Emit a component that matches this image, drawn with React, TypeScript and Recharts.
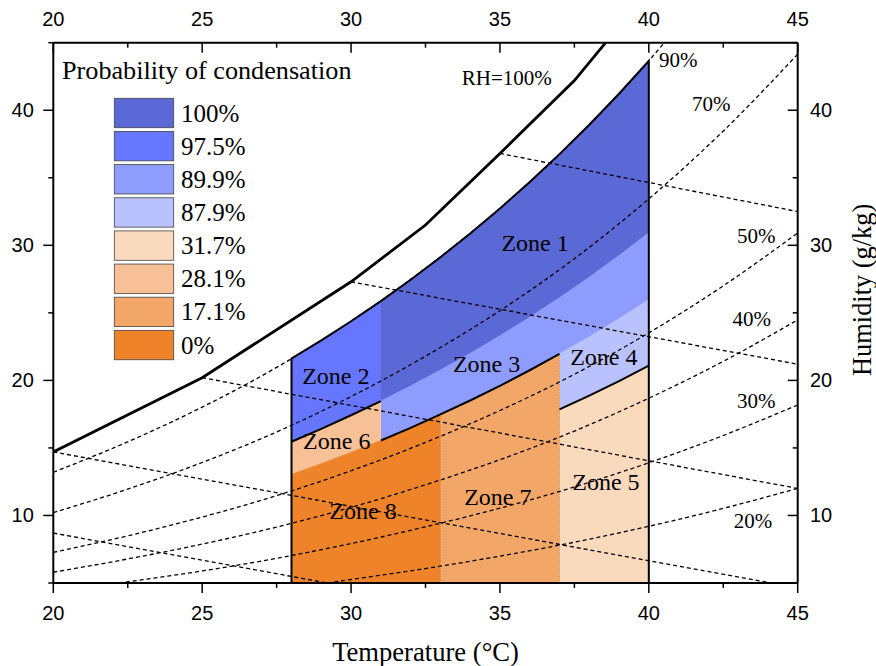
import { ComposedChart, XAxis, YAxis, Area, Line, ReferenceDot, Label } from 'recharts'

const SERIF = '"Liberation Serif", "Times New Roman", Times, serif'
const SANS = '"Liberation Sans", Arial, Helvetica, sans-serif'

// axis ticks
const tempTicks = [20, 22.5, 25, 27.5, 30, 32.5, 35, 37.5, 40, 42.5, 45]
const humTicks = [5, 10, 15, 20, 25, 30, 35, 40, 45]

// zone boundaries: humidity (g/kg) along the temperature grid (°C)
const zoneTemps = [28, 29, 30, 31, 32, 33, 34, 35, 36, 37, 38, 39, 40]
const rh90 = [21.62, 22.96, 24.38, 25.87, 27.45, 29.12, 30.87, 32.73, 34.69, 36.75, 38.93, 41.22, 43.66]
const rh65 = [15.46, 16.41, 17.42, 18.47, 19.58, 20.76, 21.99, 23.3, 24.67, 26.12, 27.63, 29.24, 30.93]
const rh55 = [13.04, 13.83, 14.67, 15.55, 16.49, 17.48, 18.51, 19.6, 20.75, 21.96, 23.22, 24.56, 25.97]
const rh45 = [10.63, 11.27, 11.96, 12.67, 13.43, 14.22, 15.06, 15.95, 16.87, 17.85, 18.87, 19.95, 21.09]
const floorW = 5

// zones
const zoneNames = ['Zone 1', 'Zone 2', 'Zone 3', 'Zone 4', 'Zone 5', 'Zone 6', 'Zone 7', 'Zone 8']
const zoneProbs = ['100%', '97.5%', '89.9%', '87.9%', '31.7%', '28.1%', '17.1%', '0%']
const zoneColors = ['#5A69D5', '#6676FE', '#8E9CFE', '#BAC2FE', '#FADABD', '#F7C096', '#F2A769', '#EE8329']
const zoneFrom = [31, 28, 31, 37, 37, 28, 33, 28]
const zoneTo = [40, 31, 40, 40, 40, 31, 37, 33]
const zoneLow = ['rh65', 'rh65', 'rh55', 'rh45', 'floor', 'rh55', 'floor', 'floor']
const zoneHigh = ['rh90', 'rh90', 'rh65', 'rh55', 'rh45', 'rh65', 'rh55', 'rh55']
const zoneLabelT = [36.18, 29.49, 34.55, 38.49, 38.56, 29.52, 34.93, 30.4]
const zoneLabelW = [30.15, 20.32, 21.19, 21.7, 12.47, 15.48, 11.33, 10.3]

// saturation curve RH=100%
const satT = [20, 25, 30, 32.5, 35, 37.5, 38.55]
const satW = [14.7, 20.2, 27.3, 31.5, 36.8, 42.2, 45]

// dashed relative humidity curves
const gridTemps = [20, 22.5, 25, 27.5, 30, 32.5, 35, 37.5, 40, 42.5, 45]
const rh90LineT = [20, 22.5, 25, 27.5, 30, 32.5, 35, 37.5, 40, 40.52]
const rh90LineW = [13.2, 15.45, 18.02, 20.96, 24.38, 28.3, 32.73, 37.8, 43.66, 45]
const rh70LineW = [10.21, 11.95, 13.92, 16.18, 18.8, 21.79, 25.16, 29.01, 33.44, 38.46, 44.15]
const rh50LineW = [7.27, 8.49, 9.88, 11.47, 13.31, 15.41, 17.77, 20.45, 23.52, 27.0, 30.91]
const rh40LineW = [5.8, 6.78, 7.88, 9.14, 10.6, 12.27, 14.13, 16.25, 18.68, 21.41, 24.48]
const rh30LineT = [22.2, 25, 27.5, 30, 32.5, 35, 37.5, 40, 42.5, 45]
const rh30LineW = [5, 5.89, 6.83, 7.92, 9.16, 10.54, 12.11, 13.9, 15.92, 18.18]
const rh20LineT = [29.2, 30, 32.5, 35, 37.5, 40, 42.5, 45]
const rh20LineW = [5, 5.26, 6.07, 6.99, 8.02, 9.2, 10.52, 12.01]
const rhLabels = ['RH=100%', '90%', '70%', '50%', '40%', '30%', '20%']
const rhLabelT = [35.23, 40.99, 42.1, 43.61, 43.46, 43.61, 43.5]
const rhLabelW = [42.41, 43.7, 40.48, 30.67, 24.52, 18.48, 9.58]

// dashed falling lines (start / end)
const enthStartT = [20, 20, 25, 30, 35]
const enthStartW = [8.7, 14.7, 20.2, 27.3, 36.8]
const enthEndT = [29.2, 44.1, 45, 45, 45]
const enthEndW = [5, 5, 12.0, 21.2, 32.5]

const curves: Record<string, number[]> = {
  rh90,
  rh65,
  rh55,
  rh45,
  floor: zoneTemps.map(() => floorW),
}

const pts = (ts: number[], ws: number[]) => ts.map((t, i) => ({ t, w: ws[i] }))
const slice = (key: string, from: number, to: number) =>
  zoneTemps.map((t, i) => ({ t, w: curves[key][i] })).filter((p) => p.t >= from && p.t <= to)
const at = (key: string, t: number) => curves[key][zoneTemps.indexOf(t)]
const zoneData = (z: number) =>
  zoneTemps
    .map((t, k) => ({ t, range: [curves[zoneLow[z]][k], curves[zoneHigh[z]][k]] }))
    .filter((p) => p.t >= zoneFrom[z] && p.t <= zoneTo[z])

const dashedCurves = [
  pts(rh90LineT, rh90LineW),
  pts(gridTemps, rh70LineW),
  pts(gridTemps, rh50LineW),
  pts(gridTemps, rh40LineW),
  pts(rh30LineT, rh30LineW),
  pts(rh20LineT, rh20LineW),
]
const enthLines = enthStartT.map((t, i) => [
  { t, w: enthStartW[i] },
  { t: enthEndT[i], w: enthEndW[i] },
])
const outline = [{ t: 28, w: floorW }, ...slice('rh90', 28, 40), { t: 40, w: floorW }, { t: 28, w: floorW }]
const boundaries = [slice('rh65', 28, 31), slice('rh55', 31, 37), slice('rh45', 37, 40)]
const dividers = [
  { pts: [{ t: 31, w: at('rh65', 31) }, { t: 31, w: at('rh90', 31) }], color: '#4C5BC0' },
  { pts: [{ t: 33, w: floorW }, { t: 33, w: at('rh55', 33) }], color: '#D9772E' },
  { pts: [{ t: 37, w: floorW }, { t: 37, w: at('rh55', 37) }], color: '#E08C4C' },
]

function TempTick(props: any) {
  const { x, y, payload, side } = props
  const v = payload.value
  const major = v % 5 === 0
  return (
    <g>
      <line x1={x} x2={x} y1={y} y2={y + (major ? 10 : 5)} stroke="#000" strokeWidth={1.5} />
      {major && (
        <text
          x={x}
          y={side === 'top' ? y - 24 : y + 30}
          textAnchor="middle"
          dominantBaseline="central"
          fontFamily={SANS}
          fontSize={20}
          fill="#000"
        >
          {v}
        </text>
      )}
    </g>
  )
}

function HumTick(props: any) {
  const { x, y, payload, side } = props
  const v = payload.value
  const major = v % 10 === 0
  return (
    <g>
      <line x1={x - (major ? 10 : 5)} x2={x} y1={y} y2={y} stroke="#000" strokeWidth={1.5} />
      {major && (
        <text
          x={side === 'left' ? x - 19.5 : x + 12.3}
          y={y}
          textAnchor={side === 'left' ? 'end' : 'start'}
          dominantBaseline="central"
          fontFamily={SANS}
          fontSize={20}
          fill="#000"
        >
          {v}
        </text>
      )}
    </g>
  )
}

const textAt = (txt: string, size: number) => (p: any) =>
  (
    <text
      x={p.cx}
      y={p.cy}
      textAnchor="middle"
      dominantBaseline="central"
      fontFamily={SERIF}
      fontSize={size}
      fill="#000"
    >
      {txt}
    </text>
  )

export default function App() {
  const axisLine = { stroke: '#000', strokeWidth: 2 }
  return (
    <div style={{ position: 'absolute', left: 0, top: 0, width: 876, height: 666, background: '#fff' }}>
      <ComposedChart width={876} height={666} margin={{ top: 2.7, right: 33.3, bottom: 43, left: 8.3 }}>
        <XAxis
          dataKey="t"
          type="number"
          domain={[20, 45]}
          allowDataOverflow
          ticks={tempTicks}
          interval={0}
          height={40}
          axisLine={axisLine}
          tickLine={false}
          tickSize={0}
          tickMargin={0}
          tick={(p: any) => <TempTick {...p} side="bottom" />}
        >
          <Label
            content={(p: any) => (
              <text
                x={p.viewBox.x + p.viewBox.width / 2}
                y={p.viewBox.y + 69}
                textAnchor="middle"
                dominantBaseline="central"
                fontFamily={SERIF}
                fontSize={26.6}
                fill="#000"
              >
                Temperature (°C)
              </text>
            )}
          />
        </XAxis>
        <XAxis
          xAxisId="top"
          orientation="top"
          dataKey="t"
          type="number"
          domain={[20, 45]}
          allowDataOverflow
          ticks={tempTicks}
          interval={0}
          height={40}
          axisLine={axisLine}
          tickLine={false}
          tickSize={0}
          tickMargin={0}
          tick={(p: any) => <TempTick {...p} side="top" />}
        />
        <YAxis
          type="number"
          domain={[5, 45]}
          allowDataOverflow
          ticks={humTicks}
          interval={0}
          width={45}
          axisLine={axisLine}
          tickLine={false}
          tickSize={0}
          tickMargin={0}
          tick={(p: any) => <HumTick {...p} side="left" />}
        />
        <YAxis
          yAxisId="right"
          orientation="right"
          type="number"
          domain={[5, 45]}
          allowDataOverflow
          ticks={humTicks}
          interval={0}
          width={45}
          axisLine={axisLine}
          tickLine={false}
          tickSize={0}
          tickMargin={0}
          tick={(p: any) => <HumTick {...p} side="right" />}
        >
          <Label
            content={(p: any) => {
              const cx = p.viewBox.x + 64
              const cy = p.viewBox.y + p.viewBox.height / 2 - 23
              return (
                <text
                  x={cx}
                  y={cy}
                  transform={`rotate(-90 ${cx} ${cy})`}
                  textAnchor="middle"
                  dominantBaseline="central"
                  fontFamily={SERIF}
                  fontSize={26.4}
                  fill="#000"
                >
                  Humidity (g/kg)
                </text>
              )
            }}
          />
        </YAxis>

        {zoneNames.map((name, z) => (
          <Area
            key={name}
            data={zoneData(z)}
            dataKey="range"
            type="linear"
            fill={zoneColors[z]}
            fillOpacity={1}
            stroke={zoneColors[z]}
            strokeWidth={0.8}
            isAnimationActive={false}
            dot={false}
            activeDot={false}
          />
        ))}

        {dividers.map((d, i) => (
          <Line
            key={'div' + i}
            data={d.pts}
            dataKey="w"
            type="linear"
            stroke={d.color}
            strokeWidth={1}
            strokeDasharray="1 1"
            dot={false}
            activeDot={false}
            isAnimationActive={false}
          />
        ))}

        {dashedCurves.map((c, i) => (
          <Line
            key={'rh' + i}
            data={c}
            dataKey="w"
            type="monotone"
            stroke="#000"
            strokeWidth={1.3}
            strokeDasharray="4 3"
            dot={false}
            activeDot={false}
            isAnimationActive={false}
          />
        ))}
        {enthLines.map((c, i) => (
          <Line
            key={'h' + i}
            data={c}
            dataKey="w"
            type="linear"
            stroke="#000"
            strokeWidth={1.3}
            strokeDasharray="4 3"
            dot={false}
            activeDot={false}
            isAnimationActive={false}
          />
        ))}

        <Line
          data={outline}
          dataKey="w"
          type="linear"
          stroke="#000"
          strokeWidth={2}
          dot={false}
          activeDot={false}
          isAnimationActive={false}
        />
        {boundaries.map((b, i) => (
          <Line
            key={'b' + i}
            data={b}
            dataKey="w"
            type="linear"
            stroke="#000"
            strokeWidth={2}
            dot={false}
            activeDot={false}
            isAnimationActive={false}
          />
        ))}
        <Line
          data={pts(satT, satW)}
          dataKey="w"
          type="linear"
          stroke="#000"
          strokeWidth={2.8}
          dot={false}
          activeDot={false}
          isAnimationActive={false}
        />

        {zoneNames.map((name, z) => (
          <ReferenceDot
            key={'zl' + z}
            x={zoneLabelT[z]}
            y={zoneLabelW[z]}
            r={0}
            shape={textAt(name, 24)}
          />
        ))}
        {rhLabels.map((txt, i) => (
          <ReferenceDot key={'rl' + i} x={rhLabelT[i]} y={rhLabelW[i]} r={0} shape={textAt(txt, 21)} />
        ))}
      </ComposedChart>

      <svg width={876} height={666} style={{ position: 'absolute', left: 0, top: 0, pointerEvents: 'none' }}>
        <text x={62} y={70} dominantBaseline="central" fontFamily={SERIF} fontSize={26.2} fill="#000">
          Probability of condensation
        </text>
        {zoneProbs.map((p, i) => (
          <g key={p}>
            <rect
              x={114.3}
              y={98.3 + i * 33.15}
              width={59.4}
              height={29.4}
              fill={zoneColors[i]}
              stroke="#444"
              strokeWidth={0.8}
            />
            <text
              x={181}
              y={113 + i * 33.15}
              dominantBaseline="central"
              fontFamily={SERIF}
              fontSize={25}
              fill="#000"
            >
              {p}
            </text>
          </g>
        ))}
      </svg>
    </div>
  )
}
